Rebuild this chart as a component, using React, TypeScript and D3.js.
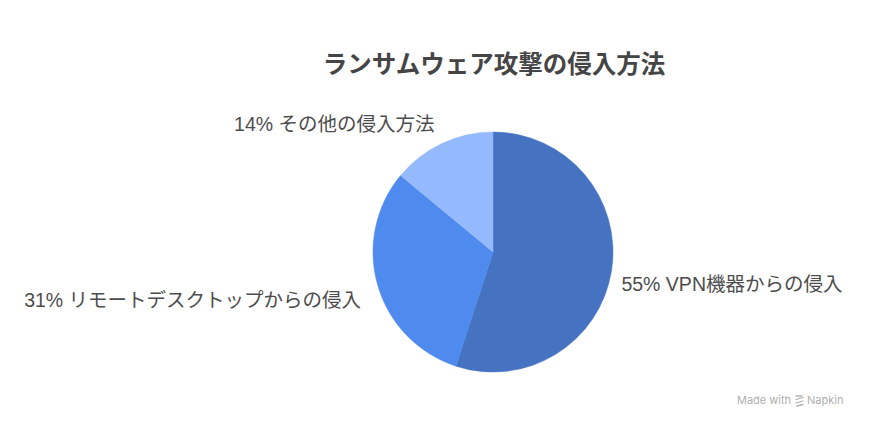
import React from "react";
import * as d3 from "d3";

const categories = ["VPN機器からの侵入", "リモートデスクトップからの侵入", "その他の侵入方法"];
const values = [55, 31, 14];
const colors = ["#4573C2", "#4F8BEE", "#94B9FC"];
const title = "ランサムウェア攻撃の侵入方法";

const W = 870;
const H = 429;
const cx = 493;
const cy = 252;
const R = 120;
const FONT = "'Liberation Sans', Arial, 'Noto Sans CJK JP', sans-serif";

export default function App() {
  const pie = d3.pie<number>().sort(null).value((d) => d)(values);
  const arc = d3.arc<d3.PieArcDatum<number>>().innerRadius(0).outerRadius(R);

  return (
    <svg
      width={W}
      height={H}
      style={{ position: "absolute", left: 0, top: 0, background: "#fff" }}
      fontFamily={FONT}
    >
      <rect width={W} height={H} fill="#fff" />
      <text
        x={494}
        y={73}
        textAnchor="middle"
        fontSize={24.5}
        fontWeight="bold"
        fill="#454545"
      >
        {title}
      </text>
      <g transform={`translate(${cx},${cy})`}>
        {pie.map((p, i) => (
          <path key={i} d={arc(p) || ""} fill={colors[i]} stroke={colors[i]} strokeWidth={0.5} />
        ))}
        {pie.map((p, i) => {
          const a = (p.startAngle + p.endAngle) / 2;
          const lr = R + 8;
          const s = Math.sin(a);
          const c = Math.cos(a);
          let x = lr * s + (s > 0 ? 2 : -4);
          const y = -lr * c + (c > 0 ? -12 : 12);
          if (s < 0 && c < 0) x -= 5;
          return (
            <text
              key={"l" + i}
              x={x}
              y={y}
              dy="0.35em"
              textAnchor={s > 0 ? "start" : "end"}
              fontSize={19.5}
              fill="#4d4d4d"
            >
              {`${values[i]}% ${categories[i]}`}
            </text>
          );
        })}
      </g>
      <g fill="#b0b0b0" fontSize={11} fontFamily="Inter, 'Liberation Sans', sans-serif">
        <text x={737} y={404}>Made with</text>
        <g transform="translate(795,395)" stroke="#b0b0b0" strokeWidth={1.3} fill="none" strokeLinecap="round">
          <path d="M1 1 L7 1" />
          <path d="M1 4.5 L8 2.5" />
          <path d="M1 8 L8 6" />
          <path d="M2 11 L8 9.5" />
        </g>
        <text x={807} y={404}>Napkin</text>
      </g>
    </svg>
  );
}
